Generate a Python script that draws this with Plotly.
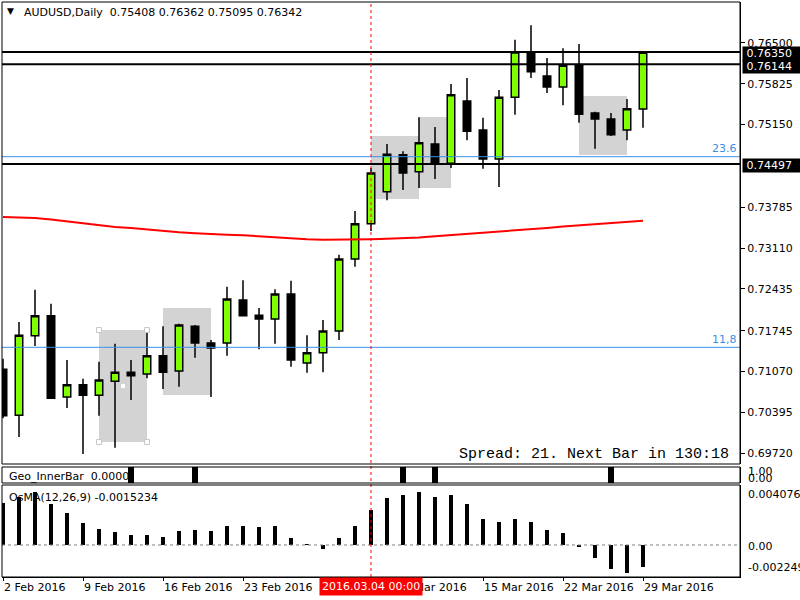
import plotly.graph_objects as go

# ---------------- data ----------------
bars = list(range(41))
opens = [0.7111, 0.7035, 0.7166, 0.7199, 0.7065, 0.7085, 0.7068, 0.7091, 0.7106, 0.7103,
         0.7133, 0.7108, 0.7182, 0.7154, 0.7154, 0.7225, 0.7200, 0.7194, 0.7235, 0.7121,
         0.7138, 0.7174, 0.7293, 0.7351, 0.7404, 0.7465, 0.7437, 0.7483, 0.7451, 0.7554,
         0.7506, 0.7458, 0.7560, 0.7635, 0.7595, 0.7577, 0.7613, 0.7534, 0.7524, 0.7506,
         0.75408]
highs = [0.7128, 0.7189, 0.7242, 0.7219, 0.7126, 0.7095, 0.7123, 0.7153, 0.7126, 0.7171,
         0.7182, 0.7186, 0.7184, 0.7159, 0.7247, 0.7258, 0.7212, 0.7243, 0.7257, 0.7167,
         0.7192, 0.7300, 0.7372, 0.7443, 0.7483, 0.7471, 0.7527, 0.7511, 0.7582, 0.7592,
         0.7526, 0.7572, 0.7655, 0.7679, 0.7625, 0.7641, 0.7648, 0.7536, 0.7534, 0.7557,
         0.76362]
lows = [0.7030, 0.6999, 0.7149, 0.7062, 0.7047, 0.6971, 0.7034, 0.6981, 0.7060, 0.7096,
        0.7078, 0.7082, 0.7130, 0.7065, 0.7133, 0.7199, 0.7144, 0.7153, 0.7115, 0.7105,
        0.7106, 0.7159, 0.7280, 0.7339, 0.7390, 0.7407, 0.7410, 0.7425, 0.7443, 0.7489,
        0.7442, 0.7412, 0.7531, 0.7592, 0.7567, 0.7547, 0.7518, 0.7475, 0.7496, 0.7489,
        0.75095]
closes = [0.7034, 0.7167, 0.7199, 0.7063, 0.7085, 0.7068, 0.7093, 0.7106, 0.7100, 0.7133,
          0.7106, 0.7184, 0.7154, 0.7146, 0.7227, 0.7199, 0.7194, 0.7235, 0.7126, 0.7138,
          0.7174, 0.7293, 0.7351, 0.7435, 0.7466, 0.7435, 0.7485, 0.7450, 0.7564, 0.7504,
          0.7458, 0.7560, 0.7635, 0.7602, 0.7577, 0.7613, 0.7532, 0.7524, 0.7498, 0.7541,
          0.76342]
ma_values = [0.73623, 0.73619, 0.73606, 0.73581, 0.73548, 0.73515, 0.73494, 0.73458, 0.73441, 0.73416,
             0.73392, 0.73370, 0.73354, 0.73339, 0.73330, 0.73322, 0.73304, 0.73287, 0.73271, 0.73254,
             0.73248, 0.73248, 0.73248, 0.73256, 0.73264, 0.73273, 0.73284, 0.73306, 0.73325, 0.73339,
             0.73355, 0.73375, 0.73405, 0.73421, 0.73441, 0.73466, 0.73487, 0.73507, 0.73527, 0.73548,
             0.73562]
inner_bar = [0, 0, 0, 0, 0, 0, 0, 0, 1, 0,
             0, 0, 1, 0, 0, 0, 0, 0, 0, 0,
             0, 0, 0, 0, 0, 1, 0, 1, 0, 0,
             0, 0, 0, 0, 0, 0, 0, 0, 1, 0,
             0]
osma = [0.00297, 0.00335, 0.00371, 0.00288, 0.00227, 0.00157, 0.00113, 0.00091, 0.00070, 0.00070,
        0.00056, 0.00098, 0.00106, 0.00098, 0.00134, 0.00134, 0.00127, 0.00134, 0.00049, 0.00002,
        -0.00026, 0.00049, 0.00134, 0.00246, 0.00330, 0.00352, 0.00373, 0.00337, 0.00354, 0.00290,
        0.00183, 0.00162, 0.00183, 0.00162, 0.00106, 0.00084, -0.00014, -0.00089, -0.00167, -0.00195,
        -0.0015234]

tick_bars = [0, 5, 10, 15, 20, 25, 30, 35, 40]
tick_labels = ["2 Feb 2016", "9 Feb 2016", "16 Feb 2016", "23 Feb 2016", "1 Mar 2016",
               "8 Mar 2016", "15 Mar 2016", "22 Mar 2016", "29 Mar 2016"]
price_ticks = [0.76500, 0.75825, 0.75150, 0.73785, 0.73110, 0.72435, 0.71745, 0.71070, 0.70395, 0.69720]

hline_levels = [0.76350, 0.76144, 0.74497]
bid_level = 0.76342
fib_levels = [0.746189, 0.714706]
fib_labels = ["23.6", "11,8"]

zones_x0 = [6, 10, 23, 26, 36]
zones_x1 = [9, 13, 26, 28, 39]
zones_low = [0.69906, 0.70683, 0.73920, 0.74102, 0.74647]
zones_high = [0.71756, 0.72120, 0.74961, 0.75274, 0.75621]

vline_bar = 23
vline_label = "2016.03.04 00:00"
header_text = "AUDUSD,Daily\u00a0\u00a00.75408 0.76362 0.75095 0.76342"
inner_label = "Geo_InnerBar\u00a0\u00a00.0000"
osma_label = "OsMA(12,26,9) -0.0015234"
spread_text = "Spread: 21. Next Bar in 130:18"
osma_axis_labels = ["0.0040769", "0.00", "-0.002249"]

# ---------------- layout helpers (pixel -> paper) ----------------
W, H = 800, 600
L, R, T, B = 2, 60, 2, 23
PW, PH = W - L - R, H - T - B


def fx(px):
    return (px - L) / PW


def fy(py):
    return (H - B - py) / PH


main_dom = [fy(464), 1.0]
inner_dom = [fy(483), fy(467)]
osma_dom = [0.0, fy(485)]
xrange_ = [(L - 3) / 16, (L + PW - 3) / 16]

FONT = "DejaVu Sans"
fig = go.Figure()

fig.add_trace(go.Candlestick(
    x=bars, open=opens, high=highs, low=lows, close=closes,
    xaxis="x2", yaxis="y",
    increasing=dict(fillcolor="#7FFF00", line=dict(color="black", width=1.5)),
    decreasing=dict(fillcolor="black", line=dict(color="black", width=1.5)),
    whiskerwidth=0, hoverinfo="skip"))

fig.add_trace(go.Scatter(x=bars, y=ma_values, mode="lines", xaxis="x2", yaxis="y",
                         line=dict(color="#FF0000", width=2), hoverinfo="skip"))

# selection handles on first zone
fig.add_trace(go.Scatter(
    x=[zones_x0[0], zones_x1[0], zones_x0[0], zones_x1[0]],
    y=[zones_high[0], zones_high[0], zones_low[0], zones_low[0]],
    mode="markers", xaxis="x2", yaxis="y", hoverinfo="skip",
    marker=dict(symbol="square", size=5, color="white", line=dict(color="#C8C8C8", width=1))))
fig.add_trace(go.Scatter(
    x=[(zones_x0[0] + zones_x1[0]) / 2], y=[(zones_high[0] + zones_low[0]) / 2],
    mode="markers", xaxis="x2", yaxis="y", hoverinfo="skip",
    marker=dict(symbol="square", size=4, color="white")))

fig.add_trace(go.Bar(x=bars, y=inner_bar, width=0.32, xaxis="x3", yaxis="y2",
                     marker=dict(color="black", line=dict(width=0)), hoverinfo="skip"))

fig.add_trace(go.Bar(x=bars, y=osma, width=0.19, xaxis="x", yaxis="y3",
                     marker=dict(color="black", line=dict(width=0)), hoverinfo="skip"))

shapes = []
for x0, x1, lo, hi in zip(zones_x0, zones_x1, zones_low, zones_high):
    shapes.append(dict(type="rect", xref="x2", yref="y", x0=x0, x1=x1, y0=lo, y1=hi,
                       fillcolor="#D3D3D3", line=dict(width=0), layer="below"))
for lv in fib_levels:
    shapes.append(dict(type="line", xref="paper", yref="y", x0=0, x1=1, y0=lv, y1=lv,
                       line=dict(color="#3C8FE6", width=1), layer="above"))
shapes.append(dict(type="line", xref="paper", yref="y", x0=0, x1=1, y0=bid_level, y1=bid_level,
                   line=dict(color="#FF0000", width=1), layer="above"))
for lv in hline_levels:
    shapes.append(dict(type="line", xref="paper", yref="y", x0=0, x1=1, y0=lv, y1=lv,
                       line=dict(color="black", width=2), layer="above"))
shapes.append(dict(type="line", xref="paper", yref="y3", x0=0, x1=1, y0=0, y1=0,
                   line=dict(color="#808080", width=1, dash="3px,3px"), layer="above"))
shapes.append(dict(type="line", xref="x", yref="paper", x0=vline_bar, x1=vline_bar, y0=0, y1=1,
                   line=dict(color="#FF0000", width=1, dash="3px,3px"), layer="above"))
for dom in (main_dom, inner_dom, osma_dom):
    shapes.append(dict(type="rect", xref="paper", yref="paper", x0=0, x1=1, y0=dom[0], y1=dom[1],
                       line=dict(color="black", width=1), fillcolor="rgba(0,0,0,0)", layer="above"))

ann = []
txt = dict(family=FONT, size=11, color="black")
ann.append(dict(text="\u25bc", xref="paper", yref="paper", x=fx(10), y=fy(11), showarrow=False,
                xanchor="center", yanchor="middle", font=dict(family=FONT, size=9, color="black")))
ann.append(dict(text=header_text, xref="paper", yref="paper", x=fx(22), y=fy(12), showarrow=False,
                xanchor="left", yanchor="middle", font=txt))
ann.append(dict(text=inner_label, xref="paper", yref="paper", x=fx(7), y=fy(476), showarrow=False,
                xanchor="left", yanchor="middle", font=txt))
ann.append(dict(text=osma_label, xref="paper", yref="paper", x=fx(7), y=fy(497), showarrow=False,
                xanchor="left", yanchor="middle", font=txt))
ann.append(dict(text=spread_text, xref="paper", yref="paper", x=fx(731), y=fy(454), showarrow=False,
                xanchor="right", yanchor="middle",
                font=dict(family="Liberation Mono", size=15, color="black")))
for lv, lb in zip(fib_levels, fib_labels):
    ann.append(dict(text=lb, xref="paper", yref="y", x=fx(739), y=lv, yshift=8, showarrow=False,
                    xanchor="right", yanchor="middle", font=dict(family=FONT, size=11, color="#3C8FE6")))
for lv, ys in zip(hline_levels, [-2, -2, -1]):
    ann.append(dict(text="\u00a0%.5f" % lv, xref="paper", yref="y", x=fx(742), y=lv, yshift=ys,
                    showarrow=False, xanchor="left", yanchor="middle", align="left", width=58,
                    bgcolor="black", borderpad=0, font=dict(family=FONT, size=11, color="white")))
ann.append(dict(text="1.00", xref="paper", yref="paper", x=fx(746), y=fy(472), showarrow=False,
                xanchor="left", yanchor="middle", font=txt))
ann.append(dict(text="0.00", xref="paper", yref="paper", x=fx(746), y=fy(478), showarrow=False,
                xanchor="left", yanchor="middle", font=txt))
for lb, py in zip(osma_axis_labels, [494, 546, 567]):
    ann.append(dict(text=lb, xref="paper", yref="paper", x=fx(746), y=fy(py), showarrow=False,
                    xanchor="left", yanchor="middle", font=txt))
ann.append(dict(text=vline_label, xref="x", yref="paper", x=vline_bar, y=fy(587), showarrow=False,
                xanchor="center", yanchor="middle", bgcolor="#FF0000", borderpad=2,
                font=dict(family=FONT, size=11, color="white")))

fig.update_layout(
    width=W, height=H,
    margin=dict(l=L, r=R, t=T, b=B),
    paper_bgcolor="white", plot_bgcolor="white",
    showlegend=False, shapes=shapes, annotations=ann,
    bargap=0, barmode="overlay", boxgap=0.33,
    font=dict(family=FONT, size=11, color="black"),
    xaxis=dict(domain=[0, 1], anchor="y3", range=xrange_, showgrid=False, zeroline=False,
               tickmode="array", tickvals=tick_bars, ticktext=tick_labels,
               ticks="outside", ticklen=3, tickcolor="black", ticklabelposition="outside right",
               showline=True, linecolor="black", linewidth=1,
               tickfont=dict(family=FONT, size=11, color="black")),
    xaxis2=dict(domain=[0, 1], anchor="y", matches="x", range=xrange_, showgrid=False,
                zeroline=False, showticklabels=False, ticks="", rangeslider=dict(visible=False)),
    xaxis3=dict(domain=[0, 1], anchor="y2", matches="x", range=xrange_, showgrid=False,
                zeroline=False, showticklabels=False, ticks=""),
    yaxis=dict(domain=main_dom, anchor="x2", side="right", range=[0.695430, 0.771739],
               showgrid=False, zeroline=False, tickmode="array", tickvals=price_ticks,
               ticktext=["%.5f" % v for v in price_ticks],
               ticks="outside", ticklen=4, tickcolor="black", showline=True, linecolor="black",
               tickfont=dict(family=FONT, size=11, color="black")),
    yaxis2=dict(domain=inner_dom, anchor="x3", side="right", range=[0, 1.0], showgrid=False,
                zeroline=False, showticklabels=False, ticks="", showline=True, linecolor="black"),
    yaxis3=dict(domain=osma_dom, anchor="x", side="right", range=[-0.00225, 0.004218],
                showgrid=False, zeroline=False, showticklabels=False, ticks="",
                showline=True, linecolor="black"),
)

fig.write_html("out.html", config={"displayModeBar": False})
